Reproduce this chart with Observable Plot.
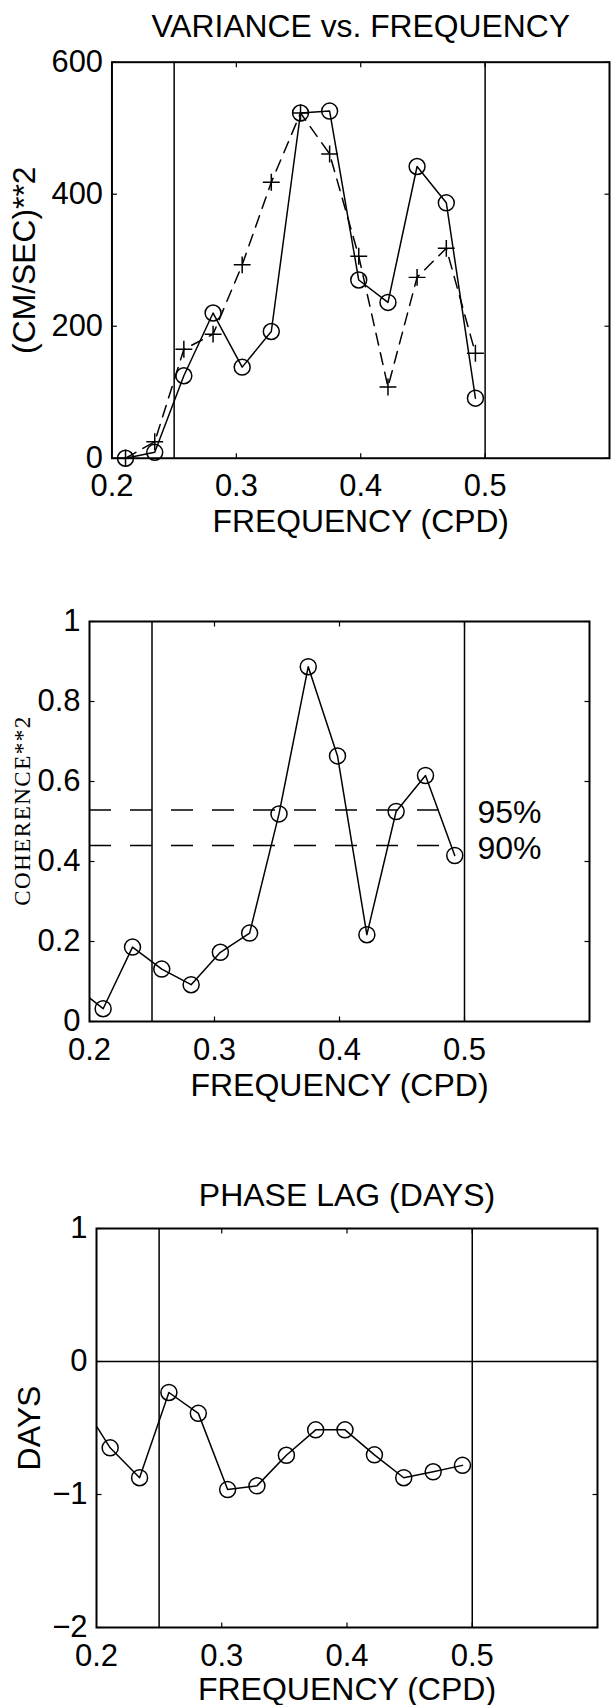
<!DOCTYPE html>
<html>
<head>
<meta charset="utf-8">
<script src="https://cdn.jsdelivr.net/npm/d3@7"></script>
<script src="https://cdn.jsdelivr.net/npm/@observablehq/plot@0.6"></script>
<style>
  html, body { margin: 0; padding: 0; background: #fff; overflow: hidden; }
  #wrap { position: relative; width: 611px; height: 1705px; overflow: hidden; background: #fff; }
  #wrap svg { position: absolute; left: 0; }
</style>
</head>
<body>
<div id="wrap"></div>
<script>
// ---- data ----
const freq = [0.1875, 0.2109, 0.2344, 0.2578, 0.2813, 0.3047, 0.3281, 0.3516, 0.3750, 0.3984, 0.4219, 0.4453, 0.4688, 0.4922];
const varianceCircle = [null, 0, 9, 125, 220, 138, 192, 523, 526, 270, 236, 442, 387, 91];
const variancePlus   = [null, 0, 25, 165, 188, 293, 418, 523, 461, 306, 108, 274, 318, 159];
const coherence = [0.09, 0.032, 0.186, 0.131, 0.092, 0.173, 0.221, 0.519, 0.887, 0.664, 0.217, 0.525, 0.615, 0.415];
const phaseLag  = [-0.30, -0.649, -0.874, -0.233, -0.39, -0.963, -0.935, -0.705, -0.514, -0.514, -0.702, -0.874, -0.829, -0.781];
const bandEdges = [0.25, 0.5];
const sigLevels = [0.529, 0.44];
const sigLabels = ["95%", "90%"];
const xTicks = [0.2, 0.3, 0.4, 0.5];
const xTickMarks = [0.3, 0.4, 0.5];
const yTicksVar = [0, 200, 400, 600];
const yTicksCoh = [0, 0.2, 0.4, 0.6, 0.8, 1];
const yTicksPhase = [-2, -1, 0, 1];
const titles = ["VARIANCE vs. FREQUENCY", "PHASE LAG (DAYS)"];
const xLabel = "FREQUENCY (CPD)";
const yLabels = ["(CM/SEC)**2", "COHERENCE**2", "DAYS"];

const rows = freq.map((f, i) => ({f, vc: varianceCircle[i], vp: variancePlus[i], coh: coherence[i], ph: phaseLag[i]}));
const rowsIn = rows.filter(d => d.f >= 0.2);
const sig = sigLevels.map((v, i) => ({v, label: sigLabels[i]}));

const SANS = "'Liberation Sans', Arial, Helvetica, sans-serif";
const SERIF = "'Liberation Serif', 'Times New Roman', serif";

const plusSym = {draw(ctx) { const r = 8.5; ctx.moveTo(-r, 0); ctx.lineTo(r, 0); ctx.moveTo(0, -r); ctx.lineTo(0, r); }};
const tickSym = (dx, dy) => ({draw(ctx) { ctx.moveTo(0, 0); ctx.lineTo(dx, dy); }});

function inwardTicks(yTicks) {
  return [
    Plot.dot(xTickMarks, {x: d => d, frameAnchor: "bottom", symbol: tickSym(0, -5), stroke: "black", strokeWidth: 1.2}),
    Plot.dot(xTickMarks, {x: d => d, frameAnchor: "top", symbol: tickSym(0, 5), stroke: "black", strokeWidth: 1.2}),
    Plot.dot(yTicks, {y: d => d, frameAnchor: "left", symbol: tickSym(5, 0), stroke: "black", strokeWidth: 1.2}),
    Plot.dot(yTicks, {y: d => d, frameAnchor: "right", symbol: tickSym(-5, 0), stroke: "black", strokeWidth: 1.2})
  ];
}

// rotated y-axis label, vertically centred on the frame (middle of the y domain)
function yLabelMark(text, domain, opts) {
  const mid = (domain[0] + domain[1]) / 2;
  return Plot.text([text], {text: d => d, y: () => mid, frameAnchor: "left", rotate: -90,
    lineAnchor: "bottom", textAnchor: "middle", ...opts});
}

const baseStyle = {fontFamily: SANS, fontSize: "31px", color: "black", background: "transparent", overflow: "visible"};
const fmt = d => (d < 0 ? "\u2212" + Math.abs(d) : String(d));

const domVar = [0, 600], domCoh = [0, 1], domPhase = [-2, 1], domX = [0.2, 0.6];

// ---- Panel 1: variance ----
const p1 = Plot.plot({
  width: 614, height: 560,
  marginLeft: 112, marginRight: 2, marginTop: 62, marginBottom: 100,
  x: {domain: domX},
  y: {domain: domVar},
  style: baseStyle,
  marks: [
    Plot.ruleX(bandEdges, {stroke: "black", strokeWidth: 1.5}),
    Plot.axisX(xTicks, {tickSize: 0, tickPadding: 16, tickFormat: fmt, label: null}),
    Plot.axisY(yTicksVar, {tickSize: 0, tickPadding: 9, tickFormat: fmt, label: null}),
    ...inwardTicks(yTicksVar),
    Plot.line(rows, {x: "f", y: "vp", stroke: "black", strokeWidth: 1.5, strokeDasharray: "12,8"}),
    Plot.line(rows, {x: "f", y: "vc", stroke: "black", strokeWidth: 1.5}),
    Plot.dot(rowsIn, {x: "f", y: "vc", r: 8, stroke: "black", fill: "none", strokeWidth: 1.5}),
    Plot.dot(rowsIn, {x: "f", y: "vp", symbol: plusSym, stroke: "black", strokeWidth: 1.5}),
    Plot.frame({stroke: "black", strokeWidth: 2}),
    Plot.text([titles[0]], {text: d => d, frameAnchor: "top", dy: -25, lineAnchor: "bottom", textAnchor: "middle", fontSize: 32}),
    Plot.text([xLabel], {text: d => d, frameAnchor: "bottom", dy: 74, lineAnchor: "bottom", textAnchor: "middle", fontSize: 32}),
    yLabelMark(yLabels[0], domVar, {dx: -77, fontSize: 32})
  ]
});
p1.style.top = "0px";

// ---- Panel 2: coherence ----
const p2 = Plot.plot({
  width: 611, height: 560,
  marginLeft: 89, marginRight: 22, marginTop: 61, marginBottom: 99,
  x: {domain: domX},
  y: {domain: domCoh},
  style: baseStyle,
  marks: [
    Plot.ruleX(bandEdges, {stroke: "black", strokeWidth: 1.5}),
    Plot.axisX(xTicks, {tickSize: 0, tickPadding: 16, tickFormat: fmt, label: null}),
    Plot.axisY(yTicksCoh, {tickSize: 0, tickPadding: 9, tickFormat: fmt, label: null}),
    ...inwardTicks(yTicksCoh),
    Plot.ruleY(sig, {y: "v", x1: 0.2, x2: 0.4935, stroke: "black", strokeWidth: 1.5, strokeDasharray: "22,19"}),
    Plot.text(sig, {y: "v", text: "label", frameAnchor: "right", textAnchor: "start", dx: -112, dy: 3, lineAnchor: "middle", fontSize: 32}),
    Plot.line(rows, {x: "f", y: "coh", stroke: "black", strokeWidth: 1.5, clip: true}),
    Plot.dot(rowsIn, {x: "f", y: "coh", r: 8, stroke: "black", fill: "none", strokeWidth: 1.5}),
    Plot.frame({stroke: "black", strokeWidth: 2}),
    Plot.text([xLabel], {text: d => d, frameAnchor: "bottom", dy: 74, lineAnchor: "bottom", textAnchor: "middle", fontSize: 32}),
    yLabelMark(yLabels[1], domCoh, {dx: -60, dy: -11, fontSize: 23, fontFamily: SERIF})
  ]
});
p2.style.top = "560px";
p2.querySelectorAll("text").forEach(t => { if (t.textContent === yLabels[1]) t.setAttribute("letter-spacing", "1.5"); });

// ---- Panel 3: phase lag ----
const p3 = Plot.plot({
  width: 611, height: 585,
  marginLeft: 96, marginRight: 14, marginTop: 108, marginBottom: 78,
  x: {domain: domX},
  y: {domain: domPhase},
  style: baseStyle,
  marks: [
    Plot.ruleX(bandEdges, {stroke: "black", strokeWidth: 1.5}),
    Plot.ruleY([0], {stroke: "black", strokeWidth: 1.5}),
    Plot.axisX(xTicks, {tickSize: 0, tickPadding: 16, tickFormat: fmt, label: null}),
    Plot.axisY(yTicksPhase, {tickSize: 0, tickPadding: 9, tickFormat: fmt, label: null}),
    ...inwardTicks(yTicksPhase),
    Plot.line(rows, {x: "f", y: "ph", stroke: "black", strokeWidth: 1.5, clip: true}),
    Plot.dot(rowsIn, {x: "f", y: "ph", r: 8, stroke: "black", fill: "none", strokeWidth: 1.5}),
    Plot.frame({stroke: "black", strokeWidth: 2}),
    Plot.text([titles[1]], {text: d => d, frameAnchor: "top", dy: -23, lineAnchor: "bottom", textAnchor: "middle", fontSize: 32}),
    Plot.text([xLabel], {text: d => d, frameAnchor: "bottom", dy: 72, lineAnchor: "bottom", textAnchor: "middle", fontSize: 32}),
    yLabelMark(yLabels[2], domPhase, {dx: -57, fontSize: 32})
  ]
});
p3.style.top = "1120px";

const wrap = document.getElementById("wrap");
wrap.appendChild(p1);
wrap.appendChild(p2);
wrap.appendChild(p3);
</script>
</body>
</html>
